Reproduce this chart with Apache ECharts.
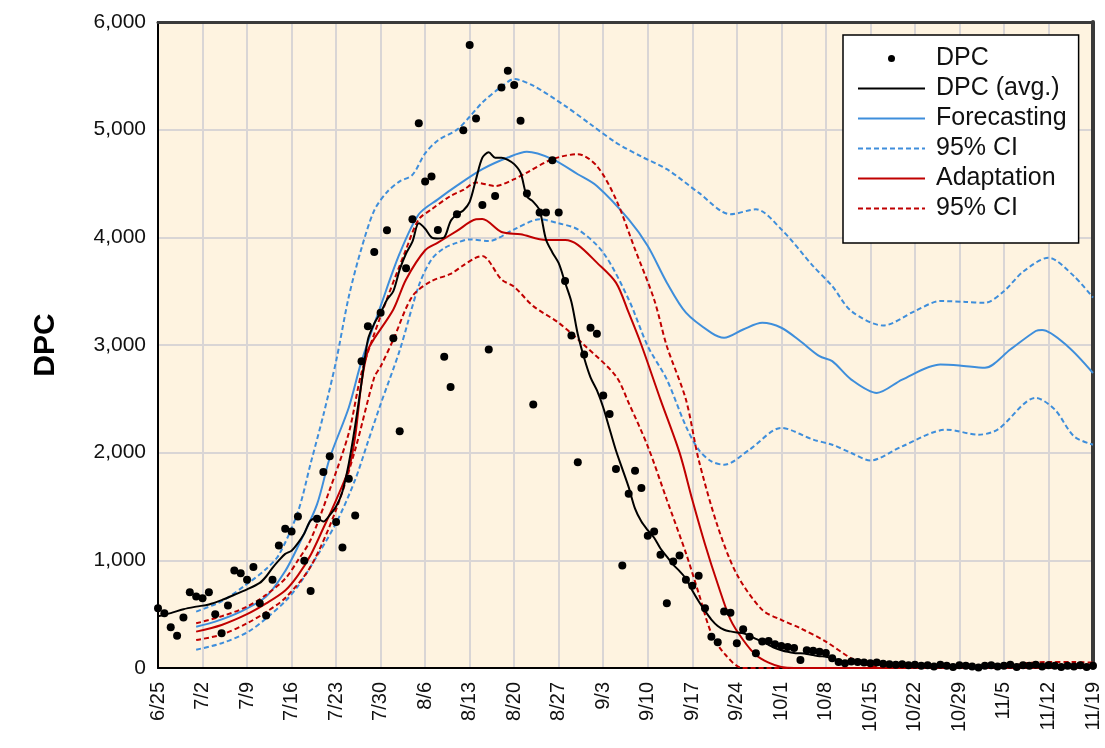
<!DOCTYPE html>
<html>
<head>
<meta charset="utf-8">
<script src="https://cdn.jsdelivr.net/npm/echarts@6/dist/echarts.min.js"></script>
<style>
html,body{margin:0;padding:0;background:#fff;}
#chart{width:1105px;height:748px;}
</style>
</head>
<body>
<div id="chart"></div>
<script>
// x tick labels (every 7 days from 6/25, day index 0..147)
var tickLabels = ['6/25','7/2','7/9','7/16','7/23','7/30','8/6','8/13','8/20','8/27','9/3','9/10','9/17','9/24','10/1','10/8','10/15','10/22','10/29','11/5','11/12','11/19'];

// daily observed DPC, day 0 = 6/25
var dpcDaily = [
  555,509,378,300,468,704,663,648,704,499,
  323,580,905,880,819,937,602,487,819,1138,
  1293,1268,1407,995,716,1386,1820,1966,1355,1119,
  1758,1417,2850,3175,3863,3300,4065,3063,2198,3712,
  4167,5060,4518,4565,4068,2890,2611,4214,4995,5786,
  5104,4300,2958,4385,5392,5547,5414,5082,4406,2447,
  4230,4230,4716,4230,3594,3088,1910,2912,3160,3104,
  2530,2360,1848,952,1619,1833,1671,1228,1268,1051,
  602,989,1045,819,763,856,555,291,239,524,
  514,230,360,291,137,245,250,220,205,195,
  185,75,165,160,150,140,90,55,45,60,
  55,50,45,50,40,35,30,35,25,30,
  20,25,15,30,20,10,25,20,15,5,
  20,25,15,20,30,10,25,20,30,15,
  25,20,10,20,15,25,10,20
];

// [day, value]
var dpcAvg = [[0,480],[2,510],[4,546],[6,570],[8,590],[10,630],[12,680],[14,730],[16,790],[17,850],[18,930],[19,1000],[20,1060],[21,1090],[22,1160],[23,1250],[24,1370],[25,1390],[26,1360],[27,1420],[28,1500],[29,1640],[30,1900],[31,2250],[32,2650],[33,3050],[34,3200],[35,3300],[36,3420],[37,3500],[38,3700],[39,3850],[40,3960],[41,4130],[42,4080],[43,4000],[44,3990],[45,4000],[46,4150],[47,4214],[48,4250],[49,4330],[50,4540],[51,4740],[52,4790],[53,4740],[54,4740],[55,4720],[56,4680],[57,4600],[58,4380],[59,4330],[60,4250],[61,3980],[62,3860],[63,3760],[64,3580],[65,3400],[66,3100],[67,2880],[68,2700],[69,2580],[70,2420],[71,2220],[72,2020],[73,1850],[74,1680],[75,1480],[76,1360],[77,1280],[78,1210],[79,1110],[80,1035],[81,960],[82,900],[83,830],[84,720],[85,620],[86,530],[87,450],[88,390],[89,355],[90,340],[91,330],[92,322],[93,300],[94,270],[95,245],[96,215],[97,185],[98,165],[99,150],[100,140],[101,136],[102,130],[103,120],[104,110],[105,105],[106,90],[107,70],[108,55],[109,50],[110,45],[112,40],[115,30],[120,22],[125,18],[130,15],[135,15],[140,15],[147,15]];

var forecast = [[6,384],[9,431],[13,524],[17,663],[20,900],[22,1128],[25,1520],[27,1950],[30,2420],[32,2850],[35,3361],[38,3850],[41,4214],[44,4353],[47,4480],[51,4633],[55,4741],[58,4794],[62,4726],[66,4586],[69,4477],[74,4167],[77,3919],[80,3579],[83,3300],[87,3113],[89,3067],[92,3144],[95,3206],[98,3160],[101,3035],[104,2896],[106,2850],[109,2679],[113,2555],[117,2679],[123,2819],[126,2810],[130,2788],[134,2958],[138,3130],[139,3140],[143,2989],[147,2740]];

var forecastHi = [[6,524],[10,620],[14,780],[17,920],[19,1050],[22,1450],[24,1900],[26,2350],[28,2850],[30,3450],[32,3900],[34,4250],[36,4420],[38,4520],[40,4580],[42,4780],[44,4900],[47,5000],[49,5120],[51,5253],[54,5400],[56,5470],[59,5408],[64,5221],[68,5050],[72,4880],[76,4750],[80,4633],[85,4415],[90,4214],[94,4260],[98,4074],[103,3733],[106,3547],[109,3315],[114,3181],[119,3315],[123,3408],[127,3400],[130,3392],[133,3500],[136,3680],[140,3811],[144,3640],[147,3440]];

var forecastLo = [[6,170],[10,230],[14,330],[17,460],[20,620],[22,760],[24,942],[28,1346],[31,1749],[33,2100],[35,2450],[38,2950],[41,3550],[43,3795],[45,3900],[47,3950],[49,3981],[52,3966],[56,4074],[60,4167],[63,4130],[66,4074],[70,3858],[74,3423],[77,2989],[80,2679],[83,2245],[85,2028],[87,1919],[89,1888],[93,2028],[98,2230],[103,2121],[106,2074],[109,1997],[112,1928],[117,2059],[124,2214],[129,2167],[132,2214],[138,2509],[141,2400],[144,2152],[147,2074]];

var adapt = [[6,338],[10,400],[14,500],[17,600],[20,720],[22,860],[24,1050],[26,1300],[28,1560],[30,1850],[31,2150],[32,2650],[33,2950],[34,3060],[37,3330],[39,3609],[42,3880],[44,3951],[47,4060],[50,4167],[51,4170],[54,4050],[57,4028],[61,3975],[64,3975],[66,3930],[69,3765],[72,3579],[74,3300],[76,3000],[79,2493],[82,2000],[84,1563],[86,1150],[88,780],[90,450],[92,260],[94,120],[96,50],[98,10],[100,0],[147,0]];

var adaptHi = [[6,415],[10,480],[14,570],[17,680],[20,830],[22,1000],[24,1191],[27,1656],[30,2183],[32,2741],[35,3268],[39,3888],[41,4167],[43,4260],[46,4384],[48,4440],[50,4509],[53,4477],[56,4540],[58,4602],[62,4726],[66,4772],[69,4663],[72,4353],[75,3888],[78,3423],[80,2989],[83,2493],[85,1935],[88,1314],[91,870],[95,540],[98,447],[101,369],[105,245],[109,90],[112,19],[115,0],[133,0],[136,40],[140,55],[144,55],[147,50]];

var adaptLo = [[6,260],[10,310],[14,415],[17,520],[20,650],[24,942],[28,1470],[31,2028],[34,2700],[35,2800],[37,3051],[40,3454],[43,3594],[46,3660],[48,3740],[50,3811],[51,3826],[54,3609],[56,3540],[59,3361],[63,3206],[67,3000],[72,2710],[74,2462],[77,2059],[80,1563],[83,1067],[85,695],[87,322],[89,137],[92,0],[147,0]];

var FONT = 'Liberation Sans, Arial, sans-serif';
var BLUE = '#3E8EDB';
var RED = '#C00000';

var chart = echarts.init(document.getElementById('chart'));

function lineSeries(name, data, color, dashed, z) {
  return {
    name: name, type: 'line', data: data, smooth: 0.3, symbol: 'none',
    lineStyle: { color: color, width: 2, type: dashed ? [5, 3] : 'solid' },
    itemStyle: { color: color }, z: z || 2, animation: false
  };
}
function legendLine(name) {
  return { name: name, itemStyle: { opacity: 0 } };
}

chart.setOption({
  animation: false,
  grid: { left: 158, right: 12, top: 22, bottom: 80, show: true,
          backgroundColor: '#FEF3E0', borderColor: '#333', borderWidth: 0 },
  legend: {
    left: 843, top: 35, orient: 'vertical',
    backgroundColor: '#fff', borderColor: '#000', borderWidth: 1.5,
    padding: [11, 12, 22, 14], itemWidth: 67, itemHeight: 7, itemGap: 5,
    textStyle: { fontFamily: FONT, fontSize: 25, color: '#111', lineHeight: 25, padding: [0, 0, 0, 6] },
    formatter: function (n) { return n.trim(); },
    data: [
      { name: 'DPC', icon: 'circle' },
      legendLine('DPC (avg.)'), legendLine('Forecasting'), legendLine('95% CI'),
      legendLine('Adaptation'), legendLine('95% CI ')
    ],
    selectedMode: false
  },
  xAxis: [{
    type: 'value', min: 0, max: 147, interval: 7,
    axisLine: { show: true, onZero: false, lineStyle: { color: '#000', width: 2 } },
    axisTick: { show: false },
    splitLine: { show: true, lineStyle: { color: '#D9D5D5', width: 2 } },
    axisLabel: { rotate: 90, fontFamily: FONT, fontSize: 20, color: '#111', margin: 14,
      formatter: function (v) { return tickLabels[Math.round(v / 7)]; } }
  }, {
    type: 'value', min: 0, max: 147, position: 'top',
    axisLine: { show: true, onZero: false, lineStyle: { color: '#3a3a3a', width: 3 } },
    axisTick: { show: false }, axisLabel: { show: false }, splitLine: { show: false }
  }],
  yAxis: [{
    type: 'value', min: 0, max: 6000, interval: 1000,
    name: 'DPC', nameLocation: 'middle', nameGap: 97, nameRotate: 90,
    nameTextStyle: { fontFamily: FONT, fontSize: 30, fontWeight: 'bold', color: '#000' },
    axisLine: { show: true, lineStyle: { color: '#000', width: 2 } },
    axisTick: { show: false },
    splitLine: { show: true, lineStyle: { color: '#D9D5D5', width: 2 } },
    axisLabel: { fontFamily: FONT, fontSize: 21, color: '#111', margin: 12,
      formatter: function (v) { return v.toLocaleString('en-US'); } }
  }, {
    type: 'value', min: 0, max: 6000, position: 'right',
    axisLine: { show: true, onZero: false, lineStyle: { color: '#3a3a3a', width: 4 } },
    axisTick: { show: false }, axisLabel: { show: false }, splitLine: { show: false }
  }],
  series: [
    { name: 'DPC', type: 'scatter', symbol: 'circle', symbolSize: 8,
      itemStyle: { color: '#000', opacity: 1 }, z: 10,
      data: dpcDaily.map(function (v, i) { return [i, v]; }) },
    lineSeries('DPC (avg.)', dpcAvg, '#000', false, 6),
    lineSeries('Forecasting', forecast, BLUE, false, 3),
    lineSeries('95% CI', forecastHi, BLUE, true, 3),
    lineSeries('95% CI', forecastLo, BLUE, true, 3),
    lineSeries('Adaptation', adapt, RED, false, 4),
    lineSeries('95% CI ', adaptHi, RED, true, 4),
    lineSeries('95% CI ', adaptLo, RED, true, 4)
  ]
});
</script>
</body>
</html>
